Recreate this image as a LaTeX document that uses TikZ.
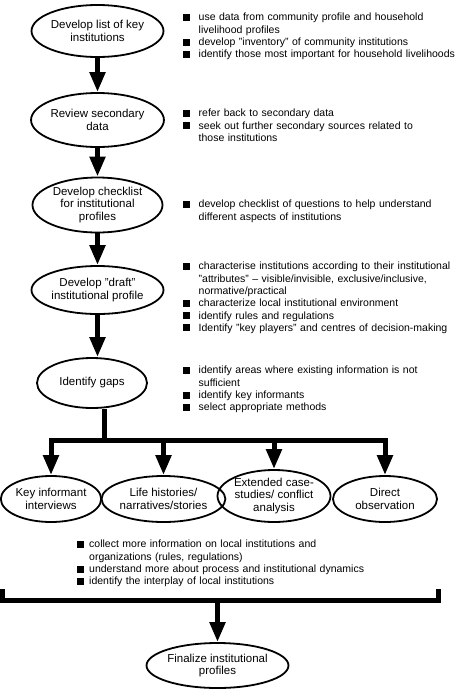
\documentclass[tikz,border=0pt]{standalone}
\usepackage{fontspec}
\setmainfont{Liberation Sans}
\usetikzlibrary{shapes.geometric,arrows.meta}
\newlength\bulw
\setlength\bulw{15.5pt}
\newcommand\bitem[1]{\par\noindent\hangindent=\bulw\hangafter=1\makebox[\bulw][l]{\rule{7pt}{7pt}}#1\par}
\tikzset{
  stage/.style={ellipse, draw, line width=1.8pt, inner sep=0pt, align=center,
    font=\fontsize{11.5}{12.8}\selectfont},
  bigarrow/.style={line width=5pt, -{Triangle[length=20pt,width=15pt]}},
  branch/.style={line width=5pt},
  notes/.style={anchor=north west, inner sep=0pt, text width=300pt,
    font=\fontsize{10.5}{12.3}\selectfont},
}
\begin{document}
\begin{tikzpicture}[x=1pt,y=-1pt]
\useasboundingbox (0,0) rectangle (456,689);
\fill[white] (0,0) rectangle (456,689);

% main column
\node[stage, minimum width=131pt, minimum height=52pt] (e1) at (97.5,31) {Develop list of key\\institutions};
\node[stage, minimum width=131pt, minimum height=54pt] (e2) at (97.5,120) {Review secondary\\data};
\node[stage, minimum width=130pt, minimum height=55pt] (e3) at (97.5,205) {Develop checklist\\for institutional\\profiles};
\node[stage, minimum width=132pt, minimum height=48pt] (e4) at (97.5,290) {Develop "draft"\\institutional profile};
\node[stage, minimum width=110pt, minimum height=50pt] (e5) at (92,383) {Identify gaps};

\draw[bigarrow] (e1) -- (e2);
\draw[bigarrow] (e2) -- (e3);
\draw[bigarrow] (e3) -- (e4);
\draw[bigarrow] (e4.south) -- (e4.south |- e5.north);

% methods
\node[stage, minimum width=98pt, minimum height=46pt] (k1) at (51,499) {Key informant\\interviews};
\node[stage, minimum width=103pt, minimum height=46pt] (k2) at (163.5,499) {Life histories/\\narratives/stories};
\node[stage, minimum width=105pt, minimum height=52pt] (k3) at (274,496) {Extended case-\\studies/ conflict\\analysis};
\node[stage, minimum width=104pt, minimum height=46pt] (k4) at (385,499) {Direct\\observation};

\coordinate (j) at (104,440);
\draw[branch] (e5.south -| j) -- (j);
\draw[branch, line cap=rect] (k1.north |- j) -- (k4.north |- j);
\foreach \k in {k1,k2,k3,k4}{\draw[bigarrow] (\k.north |- j) -- (\k.north);}

% final
\node[stage, minimum width=125pt, minimum height=45pt] (fin) at (217.5,665.5) {Finalize institutional\\profiles};
\coordinate (bk) at (217.5,600.5);
\coordinate (bL) at (2,589);
\coordinate (bR) at (438,589);
\draw[branch, line join=miter] (bL) -- (bL |- bk) -- (bR |- bk) -- (bR);
\draw[bigarrow] (bk) -- (fin);

% notes
\node[notes] (n1) at (183,8.4) {%
\bitem{use data from community profile and household\newline livelihood profiles}
\bitem{develop "inventory" of community institutions}
\bitem{identify those most important for household livelihoods}};
\node[notes] (n2) at (183,104.4) {%
\bitem{refer back to secondary data}
\bitem{seek out further secondary sources related to\newline those institutions}};
\node[notes] (n3) at (183,195.4) {%
\bitem{develop checklist of questions to help understand\newline different aspects of institutions}};
\node[notes] (n4) at (183,257.4) {%
\bitem{characterise institutions according to their institutional\newline "attributes" -- visible/invisible, exclusive/inclusive,\newline normative/practical}
\bitem{characterize local institutional environment}
\bitem{identify rules and regulations}
\bitem{Identify "key players" and centres of decision-making}};
\node[notes] (n5) at (183,361.4) {%
\bitem{identify areas where existing information is not\newline sufficient}
\bitem{identify key informants}
\bitem{select appropriate methods}};
\node[notes] (n6) at (77,535.4) {\setlength\bulw{12pt}%
\bitem{collect more information on local institutions and\newline organizations (rules, regulations)}
\bitem{understand more about process and institutional dynamics}
\bitem{identify the interplay of local institutions}};
\end{tikzpicture}
\end{document}
